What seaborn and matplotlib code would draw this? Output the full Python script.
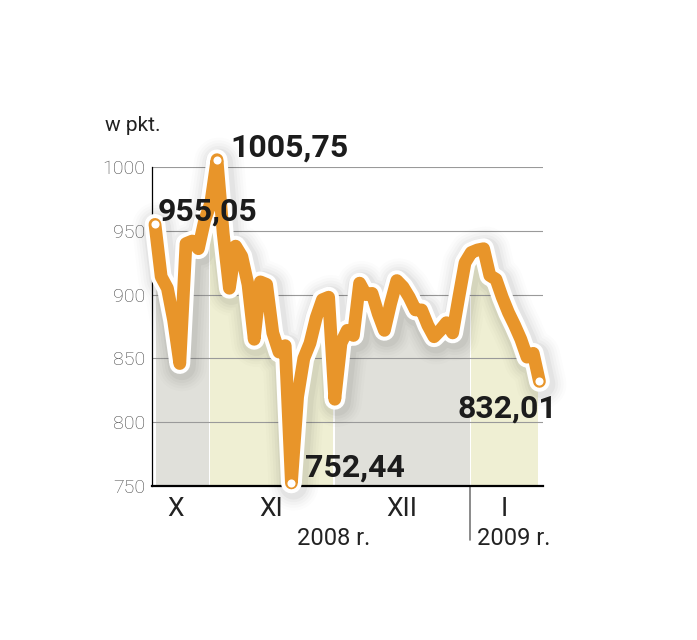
import numpy as np
import pandas as pd
import seaborn as sns
import matplotlib.pyplot as plt
import matplotlib.patheffects as pe

# daily index values, late Oct 2008 - mid Jan 2009
values = [955.05, 914, 905, 880, 846, 940, 942, 936, 958, 972,
          1005.75, 948, 905, 938, 930, 908, 865, 910, 908, 870,
          855, 860, 752.44, 820, 850, 862, 882, 896, 898, 818,
          862, 872, 868, 909, 900, 901, 885, 872, 893, 911,
          906, 898, 888, 888, 876, 867, 872, 878, 870, 898,
          925, 933, 935, 936, 915, 912, 898, 886, 876, 865,
          851, 854, 832.01]
months = ["X", "XI", "XII", "I"]
month_start = [0, 9, 29, 51]          # first session of each month
band_colors = ["#e0e0da", "#efefd3", "#e0e0da", "#efefd3"]
labelled = {0: "955,05", 10: "1005,75", 22: "752,44", 62: "832,01"}
label_offsets = {0: (3, 13, "left"), 10: (13, 12, "left"),
                 22: (14, 15, "left"), 62: (18, -27, "right")}
yticks = [750, 800, 850, 900, 950, 1000]

df = pd.DataFrame({"day": np.arange(len(values)), "value": values})

sns.set_style("white")
plt.rcParams["font.family"] = ["Roboto", "DejaVu Sans"]

fig = plt.figure(figsize=(6.97, 6.4), dpi=100)
ax = fig.add_axes([0.2181, 0.2406, 0.561, 0.4984])
ax.set_xlim(-0.48, 62.58)
ax.set_ylim(750, 1000)

# month bands under the line
edges = [s - 0.25 for s in month_start[1:]]
lefts = [0.2] + [e + 0.2 for e in edges]
rights = edges + [61.8]
for l, r, c in zip(lefts, rights, band_colors):
    ax.axvspan(l, r, color=c, lw=0, zorder=1)
ax.fill_between(df["day"], df["value"], 1030, color="white", lw=0, zorder=1.5)

for t in yticks[1:]:
    ax.axhline(t, color="#9a9a9a", lw=0.8, zorder=2)

# soft shadow + white halo around the line
effects = []
for w, a in [(36, 0.012), (32, 0.015), (28, 0.02), (24, 0.025), (20, 0.035)]:
    effects.append(pe.SimpleLineShadow(offset=(1.5, -2), shadow_color="black",
                                       alpha=a, linewidth=w))
effects += [pe.Stroke(linewidth=15, foreground="white"), pe.Normal()]

sns.lineplot(data=df, x="day", y="value", ax=ax, color="#e8952a", lw=9.2,
             solid_joinstyle="round", solid_capstyle="round",
             path_effects=effects, zorder=5, clip_on=False)

idx = list(labelled.keys())
ax.scatter([df["day"][i] for i in idx], [df["value"][i] for i in idx],
           s=34, color="white", zorder=6, clip_on=False, lw=0)
for i, txt in labelled.items():
    dx, dy, ha = label_offsets[i]
    ax.annotate(txt, xy=(df["day"][i], df["value"][i]), xytext=(dx, dy),
                textcoords="offset pixels", ha=ha, va="center",
                fontsize=23, fontweight="bold", color="#1c1c1c", zorder=7,
                annotation_clip=False)

# axes
for s in ["top", "right"]:
    ax.spines[s].set_visible(False)
ax.spines["left"].set_color("black")
ax.spines["left"].set_linewidth(0.9)
ax.spines["bottom"].set_color("black")
ax.spines["bottom"].set_linewidth(1.6)
ax.spines["bottom"].set_zorder(4)

ax.set_yticks(yticks)
ax.set_yticklabels([str(t) for t in yticks], fontsize=14, color="#444444", fontweight="light")
bounds = [-0.48] + edges + [62.0]
centers = [(bounds[k] + bounds[k + 1]) / 2 for k in range(len(months))]
centers[0] -= 0.8
ax.set_xticks(centers)
ax.set_xticklabels(months, fontsize=19, color="#222222")
ax.tick_params(axis="both", length=0)
ax.tick_params(axis="y", pad=5)
ax.tick_params(axis="x", pad=8)
ax.set_xlabel("")
ax.set_ylabel("")

trans = ax.get_xaxis_transform()
ax.plot([edges[2] + 0.1, edges[2] + 0.1], [0, -0.17], transform=trans,
        color="#777777", lw=1.2, clip_on=False)
ax.text(edges[1], -0.165, "2008 r.", transform=trans, ha="center", va="center",
        fontsize=17, color="#222222")
ax.text(edges[2] + 1.2, -0.165, "2009 r.", transform=trans, ha="left", va="center",
        fontsize=17, color="#222222")
ax.text(-0.12, 1.13, "w pkt.", transform=ax.transAxes, ha="left", va="center",
        fontsize=15, color="#222222")

fig.savefig("out.png", dpi=100, facecolor="white")
